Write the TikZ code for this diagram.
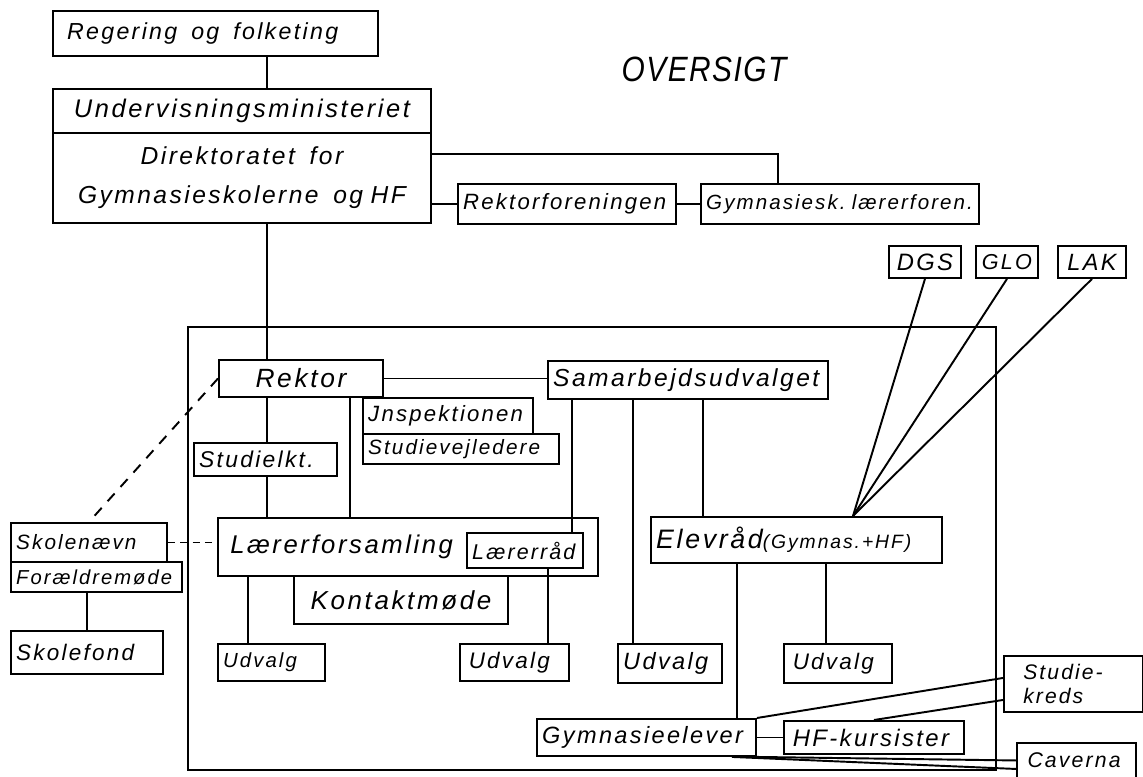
\documentclass[tikz,border=0pt]{standalone}
\usepackage{graphicx}
\usepackage{fontspec}
\setmainfont{Liberation Sans}[LetterSpace=10]
\newcommand{\fsz}[1]{\fontsize{#1}{#1}\selectfont}
\newcommand{\ws}{\hspace{0.6em}}

\begin{document}
\begin{tikzpicture}[x=0.02cm,y=-0.02cm,line width=1.1pt,
  box/.style={draw,anchor=north west,inner xsep=3pt,inner ysep=0pt,align=left,font=\itshape},
  wh/.style 2 args={text width=#1*0.02cm-6pt,minimum height=#2*0.02cm}]
\useasboundingbox (0,0) rectangle (1143,777);

\coordinate (spine) at (267,0);
\coordinate (bus) at (778,154);
\coordinate (fan) at (853,516);

% ministry column
\node[box,wh={325}{45}] (reg) at (52,10) {\fsz{13.2}\hspace*{5pt}Regering\ws og\ws folketing};
\node[box,align=center,wh={378}{44}] (uvm) at (52,88) {\fsz{14.5}Undervisningsministeriet};
\node[box,align=center,wh={378}{90}] (dir) at (52,132) {\fsz{14}Direktoratet\ws for\\[10pt]Gymnasieskolerne\ws og\hspace{0.3em}HF};
\node[font={\itshape\fsz{20}}] (title) at (704,69) {\scalebox{0.85}[1]{\addfontfeature{LetterSpace=5}OVERSIGT}};
\node[box,wh={218}{40}] (rfor) at (457,183) {\fsz{12.6}Rektorforeningen};
\node[box,wh={278}{40}] (glf) at (700,183) {\fsz{11.7}Gymnasiesk.\hspace{0.3em}lærerforen.};
\node[box,align=center,wh={72}{32}] (dgs) at (888,245) {\fsz{13.5}DGS};
\node[box,align=center,wh={62}{32}] (glo) at (975,245) {\fsz{12.3}GLO};
\node[box,align=center,wh={68}{32}] (lak) at (1057,245) {\fsz{13.4}LAK};

% the school
\draw (188,327) rectangle (996,770);
\node[box,align=center,wh={164}{37}] (rek) at (218,359) {\fsz{15}Rektor};
\node[box,wh={280}{38}] (sam) at (547,360) {\fsz{14}Samarbejdsudvalget};
\node[box,wh={170}{36}] (insp) at (362,397) {\fsz{12.6}Jnspektionen};
\node[box,wh={196}{30}] (svl) at (362,433) {\fsz{11.8}Studievejledere};
\node[box,wh={143}{33}] (stk) at (193,442) {\fsz{13}Studielkt.};
\node[box,wh={380}{58}] (lf) at (217,517) {\fsz{14.6}\hspace*{4pt}Lærerforsamling};
\node[box,wh={116}{35}] (lr) at (466,532) {\fsz{12.2}Lærerråd};
\node[box,align=center,wh={214}{48}] (km) at (293,575) {\fsz{14.8}Kontaktmøde};
\node[box,wh={291}{46}] (er) at (650,516) {{\fsz{15.2}Elevråd}{\fsz{11}(Gymnas.+HF)}};
\node[box,wh={107}{37}] (ua) at (217,643) {\fsz{11.6}Udvalg};
\node[box,wh={109}{37}] (ub) at (459,643) {\fsz{12.8}\hspace*{2pt}Udvalg};
\node[box,wh={104}{39}] (uc) at (617,643) {\fsz{13.4}Udvalg};
\node[box,wh={108}{39}] (ud) at (783,643) {\fsz{12.8}\hspace*{2pt}Udvalg};
\node[box,wh={219}{37}] (ge) at (536,718) {\fsz{13.4}Gymnasieelever};
\node[box,wh={180}{33}] (hf) at (783,720) {\fsz{13.6}\hspace*{2pt}\mbox{HF-kursister}};
\node[box,wh={139}{56}] (sk) at (1003,655) {\fsz{12}\hspace*{8pt}Studie-\\[2pt]\hspace*{8pt}kreds};
\node[box,wh={119}{35}] (cav) at (1016,742) {\fsz{12.1}\hspace*{3pt}Caverna};

% parents
\node[box,wh={156}{39}] (sn) at (10,522) {\fsz{11.8}Skolenævn};
\node[box,wh={171}{30}] (fm) at (10,561) {\fsz{11.5}Forældremøde};
\node[box,wh={152}{43}] (sf) at (10,630) {\fsz{12.8}Skolefond};

\draw (spine |- reg.south) -- (spine |- uvm.north);
\draw (spine |- dir.south) -- (spine |- rek.north);
\draw (spine |- rek.south) -- (spine |- stk.north);
\draw (spine |- stk.south) -- (spine |- lf.north);
\draw (dir.east |- bus) -- (bus) -- (bus |- glf.north);
\draw (dir.east |- rfor.west) -- (rfor.west);
\draw (rfor.east) -- (glf.west);
\draw (rek.east) -- (rek.east -| sam.west);
\draw[dash pattern=on 6pt off 5pt] (rek.west) -- (sn.north);
\draw[dash pattern=on 4pt off 3pt] (sn.east) -- (sn.east -| lf.west);
\draw (sf.north |- fm.south) -- (sf.north);

\foreach \x/\a/\b in {350/rek/lf,572/sam/lr,633/sam/uc,703/sam/er,248/lf/ua,548/lr/ub,737/er/ge,826/er/ud}
  \draw (\x,0 |- \a.south) -- (\x,0 |- \b.north);
\foreach \n in {dgs,glo,lak}
  \draw (\n.south) -- (fan);

\draw (ge.east) -- (hf.west);
\draw (ge.north east) -- ([yshift=0.12cm]sk.west);
\draw (hf.north) -- ([yshift=-0.32cm]sk.west);
\draw (ge.south east) -- (cav.west);
\draw ([xshift=-0.5cm]ge.south east) -- ([yshift=-0.17cm]cav.west);
\end{tikzpicture}
\end{document}
